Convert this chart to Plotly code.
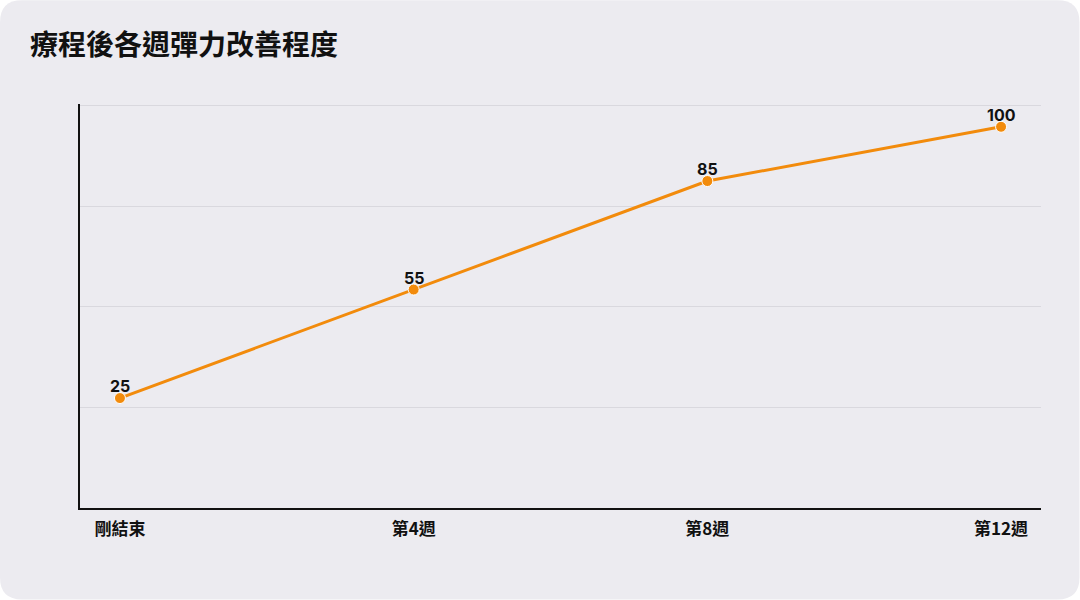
import plotly.graph_objects as go

# 療程後彈力改善
periods = ["剛結束", "第4週", "第8週", "第12週"]
improvement = [25, 55, 85, 100]

title_text = "療程後各週彈力改善程度"
font_family = "Noto Sans CJK TC, Noto Sans, sans-serif"
orange = "#F28B0C"
card = "#ECEBF0"

y_lo, y_top, y_hi = -5.4, 105.9, 106.3
grid_vals = [y_lo + (y_top - y_lo) * i / 4 for i in range(1, 5)]

fig = go.Figure()
fig.add_trace(go.Scatter(
    x=periods,
    y=improvement,
    mode="lines+markers",
    line=dict(color=orange, width=3),
    marker=dict(size=11, color=orange, line=dict(color="white", width=1)),
    cliponaxis=False,
    hoverinfo="skip",
))

# value labels just above each point
for p, v in zip(periods, improvement):
    fig.add_annotation(x=p, y=v, text=f"<b>{v}</b>", showarrow=False,
                       yanchor="bottom", yshift=0,
                       font=dict(family="Inter, " + font_family, size=16, color="#111111"))

# rounded card behind everything
w, h, r = 1080, 600, 22
card_path = (f"M {r},0 L {w-r},0 Q {w},0 {w},{r} L {w},{h-r} Q {w},{h} {w-r},{h} "
             f"L {r},{h} Q 0,{h} 0,{h-r} L 0,{r} Q 0,0 {r},0 Z")
ml, mr, mt, mb = 80, 38.5, 104, 91.5
pw, ph = w - ml - mr, h - mt - mb


def px(xv):
    return (xv - ml) / pw


def py(yv):
    return (h - mb - yv) / ph


# convert pixel path to paper coords
out = []
for t in card_path.split():
    if "," in t:
        a, b = t.split(",")
        out.append(f"{px(float(a)):.5f},{py(float(b)):.5f}")
    else:
        out.append(t)
fig.add_shape(type="path", path=" ".join(out), xref="paper", yref="paper",
              fillcolor=card, line=dict(width=0), layer="below")

fig.update_layout(
    width=1080,
    height=600,
    margin=dict(l=ml, r=mr, t=mt, b=mb),
    paper_bgcolor="white",
    plot_bgcolor="rgba(0,0,0,0)",
    showlegend=False,
    title=dict(text=f"<b>{title_text}</b>", x=30 / w, xanchor="left", y=1 - 45 / h, yanchor="middle",
               font=dict(family=font_family, size=28, color="#111111")),
    font=dict(family=font_family),
)
fig.update_xaxes(
    range=[-0.136, 3.136],
    showline=True, linecolor="#111111", linewidth=2,
    showgrid=False, zeroline=False, ticks="",
    ticklabelstandoff=5,
    tickfont=dict(family=font_family, size=17, color="#111111", weight="bold"),
)
fig.update_yaxes(
    range=[y_lo, y_hi],
    tickvals=grid_vals, showticklabels=False,
    showline=True, linecolor="#111111", linewidth=2,
    showgrid=True, gridcolor="#D9D8DE", gridwidth=1,
    zeroline=False, ticks="",
)

fig.write_html("out.html", config={"displayModeBar": False},
               post_script="document.body.style.margin='0px';")
